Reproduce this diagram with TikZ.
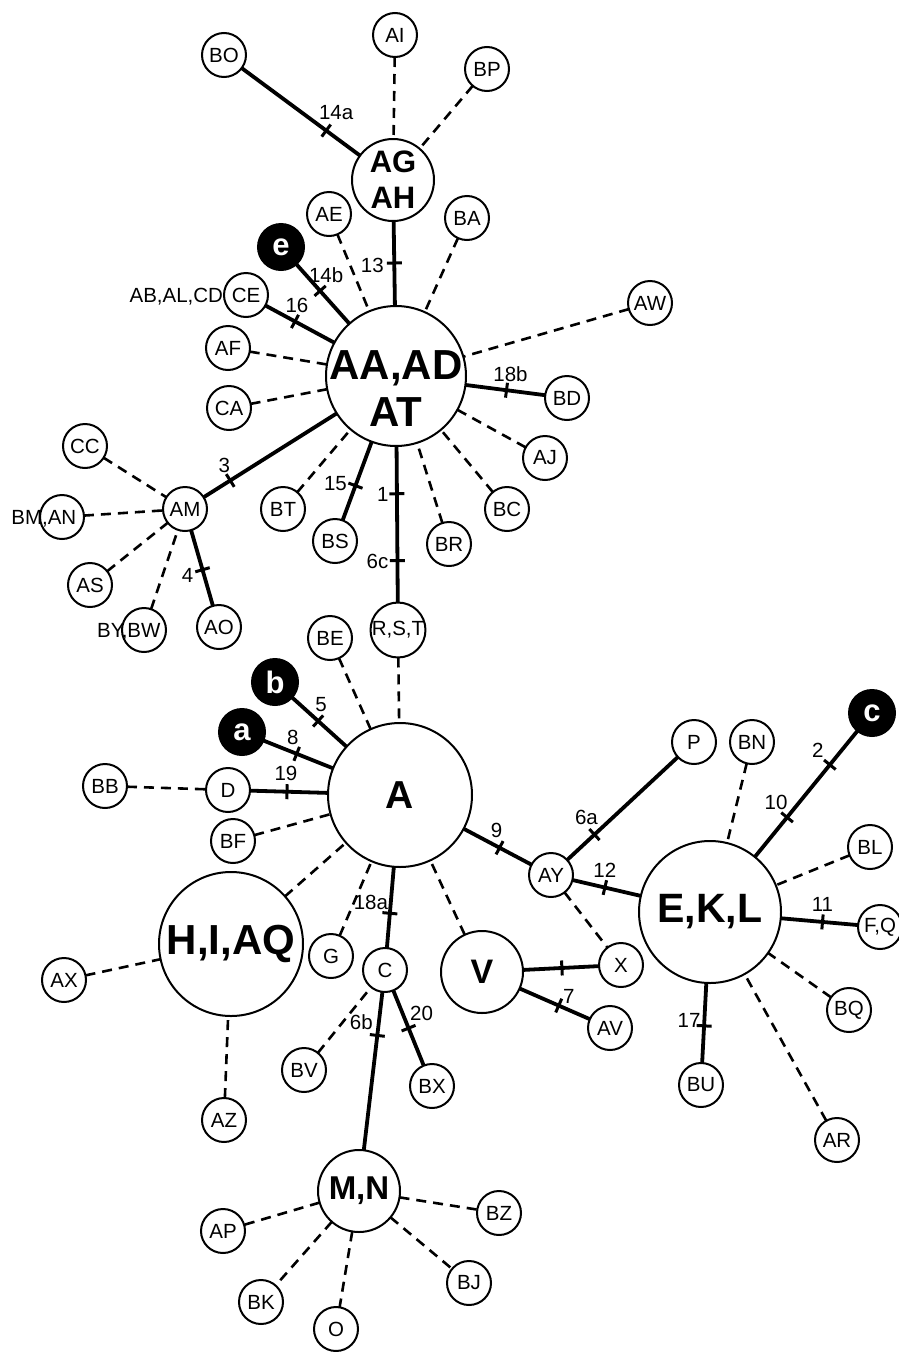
\documentclass[tikz,border=0pt]{standalone}
\usepackage{fontspec}
\setmainfont{Liberation Sans}
\begin{document}
\begin{tikzpicture}[x=1pt,y=-1pt,
  every node/.style={inner sep=0pt, outer sep=0pt},
  hap/.style={circle, draw=black, line width=2pt, fill=white, minimum size=44pt, font=\fontsize{20.5}{22}\selectfont},
  dark/.style={circle, draw=black, line width=2pt, fill=black, text=white, minimum size=46pt, font=\fontsize{31}{32}\selectfont\bfseries},
  medhap/.style={hap, minimum size=82pt, font=\fontsize{31}{36}\selectfont\bfseries},
  bighap/.style={hap, minimum size=143pt, font=\fontsize{41}{46}\selectfont\bfseries},
  txt/.style={font=\fontsize{20.5}{22}\selectfont},
  mut/.style={line width=3.8pt},
  link/.style={line width=2.6pt, dash pattern=on 10pt off 7pt},
  tk/.style={sloped, fill=black, minimum width=3pt, minimum height=15pt},
]
\useasboundingbox (0,0) rectangle (898,1352);

% ---- large / medium haplotypes
\node[medhap, align=center, font=\fontsize{31}{36}\selectfont\bfseries] (AGAH) at (393,180) {AG\\AH};
\node[bighap, minimum size=140pt] (AAAD) at (396,376) {};
\node[font=\fontsize{42}{47}\selectfont\bfseries, align=center] (AAADt) at ([yshift=-13pt]AAAD.center) {AA,AD\\AT};
\node[bighap, minimum size=144pt, font=\fontsize{39}{44}\selectfont\bfseries] (A) at (400,795) {A};
\node[bighap, minimum size=142pt] (EKL) at (710,912) {E,K,L};
\node[bighap, minimum size=144pt, font=\fontsize{42}{46}\selectfont\bfseries] (HIAQ) at (231,944) {H,I,AQ};
\node[medhap, font=\fontsize{34}{36}\selectfont\bfseries] (V) at (482,972) {V};
\node[medhap, font=\fontsize{33}{36}\selectfont\bfseries] (MN) at (359,1191) {M,N};

% ---- dark nodes
\node[dark] (e) at (281,247) {e};
\node[dark] (b) at (275,682) {b};
\node[dark] (a) at (242,732) {a};
\node[dark] (c) at (872,713) {c};

% ---- small haplotypes
\node[hap] (AI) at (395,35) {AI};
\node[hap] (BO) at (224,55) {BO};
\node[hap] (BP) at (487,69) {BP};
\node[hap] (AE) at (329,214) {AE};
\node[hap] (BA) at (467,218) {BA};
\node[hap] (CE) at (246,295) {CE};
\node[txt, anchor=base east] (CEpre) at ([xshift=-1pt]CE.west |- CE.base) {AB,AL,CD};
\node[hap] (AW) at (650,303) {AW};
\node[hap] (AF) at (228,348) {AF};
\node[hap] (CA) at (229,408) {CA};
\node[hap] (BD) at (567,398) {BD};
\node[hap] (CC) at (85,446) {CC};
\node[hap] (AJ) at (545,458) {AJ};
\node[hap] (AM) at (185,509) {AM};
\node[hap] (BT) at (283,509) {BT};
\node[hap] (BC) at (507,509) {BC};
\node[hap] (AN) at (62,517) {AN};
\node[txt, anchor=base east] (ANpre) at ([xshift=-14.2pt]AN.base) {BM,};
\node[hap] (BS) at (335,541) {BS};
\node[hap] (BR) at (449,544) {BR};
\node[hap] (AS) at (90,585) {AS};
\node[hap] (AO) at (219,627) {AO};
\node[hap] (BW) at (144,630) {BW};
\node[txt, anchor=base east] (BWpre) at ([xshift=-16.5pt]BW.base) {BY,};
\node[hap] (RST) at (398,630) {R,S,T};
\node[hap] (BE) at (330,638) {BE};
\node[hap] (P) at (694,742) {P};
\node[hap] (BN) at (752,742) {BN};
\node[hap] (BB) at (105,786) {BB};
\node[hap] (D) at (228,790) {D};
\node[hap] (BF) at (233,841) {BF};
\node[hap] (BL) at (870,847) {BL};
\node[hap] (AY) at (551,875) {AY};
\node[hap] (FQ) at (880,927) {F,Q};
\node[hap] (G) at (331,956) {G};
\node[hap] (X) at (621,965) {X};
\node[hap] (C) at (385,970) {C};
\node[hap] (AX) at (64,980) {AX};
\node[hap] (BQ) at (849,1010) {BQ};
\node[hap] (AV) at (610,1028) {AV};
\node[hap] (BV) at (304,1070) {BV};
\node[hap] (BU) at (701,1085) {BU};
\node[hap] (BX) at (432,1086) {BX};
\node[hap] (AZ) at (224,1120) {AZ};
\node[hap] (AR) at (837,1140) {AR};
\node[hap] (BZ) at (499,1213) {BZ};
\node[hap] (AP) at (223,1231) {AP};
\node[hap] (BJ) at (469,1283) {BJ};
\node[hap] (BK) at (261,1302) {BK};
\node[hap] (O) at (336,1329) {O};

% ---- mutational steps (solid, with ticks)
\draw[mut] (BO) -- node[tk, pos=.714]{} node[txt, pos=.714, xshift=10pt, yshift=18pt]{14a} (AGAH);
\draw[mut] (AGAH) -- node[tk, pos=.494]{} node[txt, pos=.494, xshift=-22pt, yshift=-2pt]{13} (AAAD);
\draw[mut] (e) -- node[tk, pos=.448]{} node[txt, pos=.448, xshift=6pt, yshift=16pt]{14b} (AAAD);
\draw[mut] (CE) -- node[tk, pos=.429]{} node[txt, pos=.429, xshift=2pt, yshift=16pt]{16} (AAAD);
\draw[mut] (AAAD) -- node[tk, pos=.515]{} node[txt, pos=.515, xshift=4pt, yshift=16pt]{18b} (BD);
\draw[mut] (AAAD) -- node[tk, pos=.80]{} node[txt, pos=.80, xshift=-6pt, yshift=15pt]{3} (AM);
\draw[mut] (AAAD) -- node[tk, pos=.559]{} node[txt, pos=.559, xshift=-20pt, yshift=2pt]{15} (BS);
\draw[mut] (AAAD) -- node[tk, pos=.305]{} node[txt, pos=.305, xshift=-14pt, yshift=-1pt]{1}
                     node[tk, pos=.732]{} node[txt, pos=.732, xshift=-20pt, yshift=-1pt]{6c} (RST);
\draw[mut] (AM) -- node[tk, pos=.523]{} node[txt, pos=.523, xshift=-15pt, yshift=-6pt]{4} (AO);
\draw[mut] (b) -- node[tk, pos=.478]{} node[txt, pos=.478, xshift=3pt, yshift=16pt]{5} (A);
\draw[mut] (a) -- node[tk, pos=.478]{} node[txt, pos=.478, xshift=-4pt, yshift=16pt]{8} (A);
\draw[mut] (D) -- node[tk, pos=.474]{} node[txt, pos=.474, xshift=-1pt, yshift=18pt]{19} (A);
\draw[mut] (A) -- node[tk, pos=.529]{} node[txt, pos=.529, xshift=-3pt, yshift=17pt]{9} (AY);
\draw[mut] (AY) -- node[tk, pos=.247]{} node[txt, pos=.247, xshift=-8pt, yshift=17pt]{6a} (P);
\draw[mut] (AY) -- node[tk, pos=.474]{} node[txt, pos=.474, xshift=0pt, yshift=17pt]{12} (EKL);
\draw[mut] (EKL) -- node[tk, pos=.314]{} node[txt, pos=.314, xshift=-11pt, yshift=15pt]{10}
                    node[tk, pos=.731]{} node[txt, pos=.731, xshift=-12pt, yshift=14pt]{2} (c);
\draw[mut] (EKL) -- node[tk, pos=.54]{} node[txt, pos=.54, xshift=0pt, yshift=17pt]{11} (FQ);
\draw[mut] (EKL) -- node[tk, pos=.536]{} node[txt, pos=.536, xshift=-15pt, yshift=5pt]{17} (BU);
\draw[mut] (A) -- node[tk, pos=.572]{} node[txt, pos=.572, xshift=-19pt, yshift=11pt]{18a} (C);
\draw[mut] (C) -- node[tk, pos=.275]{} node[txt, pos=.275, xshift=-16pt, yshift=13pt]{6b} (MN);
\draw[mut] (C) -- node[tk, pos=.502]{} node[txt, pos=.502, xshift=13pt, yshift=15pt]{20} (BX);
\draw[mut] (V) -- node[tk, pos=.512]{} (X);
\draw[mut] (V) -- node[tk, pos=.557]{} node[txt, pos=.557, xshift=10pt, yshift=9pt]{7} (AV);

% ---- dashed links
\foreach \u/\v in {AI/AGAH, BP/AGAH,
  AE/AAAD, BA/AAAD, AW/AAAD, AF/AAAD, CA/AAAD, BT/AAAD, BR/AAAD, BC/AAAD, AJ/AAAD,
  CC/AM, AN/AM, AS/AM, BW/AM,
  RST/A, BE/A, BB/D, BF/A, HIAQ/A, G/A, V/A,
  AY/X, BN/EKL, BL/EKL, BQ/EKL, AR/EKL,
  AX/HIAQ, AZ/HIAQ, BV/C,
  MN/AP, MN/BZ, MN/BK, MN/O, MN/BJ}
  \draw[link] (\u) -- (\v);
\end{tikzpicture}
\end{document}
